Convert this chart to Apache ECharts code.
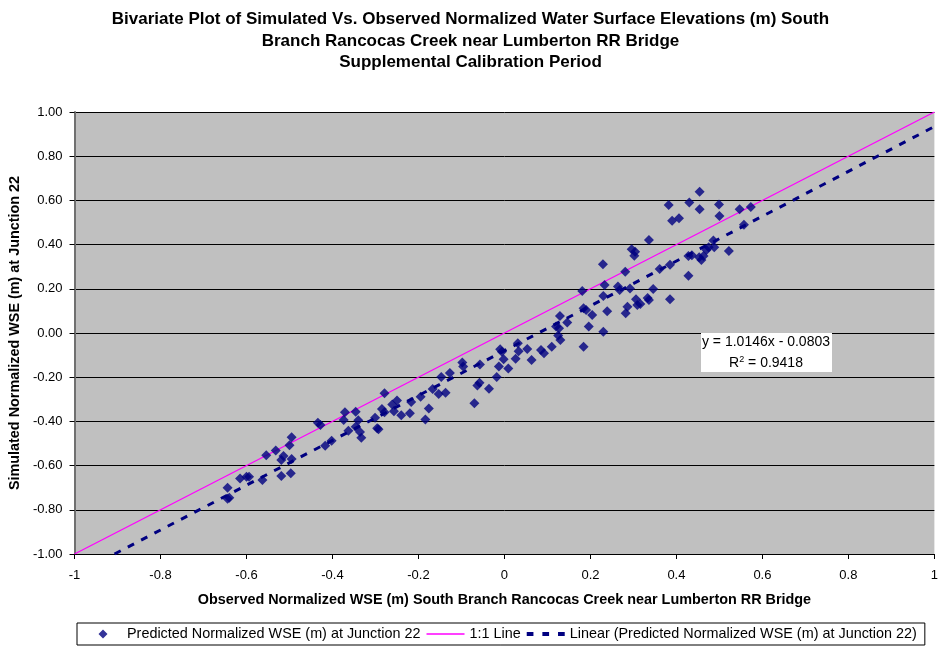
<!DOCTYPE html>
<html><head><meta charset="utf-8">
<script src="https://cdn.jsdelivr.net/npm/echarts@6/dist/echarts.min.js"></script>
<style>html,body{margin:0;padding:0;background:#fff}#c{width:941px;height:646px}</style>
</head><body><div id="c"></div>
<script>
const titleLines = ['Bivariate Plot of Simulated Vs. Observed Normalized Water Surface Elevations (m) South','Branch Rancocas Creek near Lumberton RR Bridge','Supplemental Calibration Period'];
const xAxisName = 'Observed Normalized WSE (m) South Branch Rancocas Creek near Lumberton RR Bridge';
const yAxisName = 'Simulated Normalized WSE (m) at Junction 22';
const seriesNames = ['Predicted Normalized WSE (m) at Junction 22','1:1 Line','Linear (Predicted Normalized WSE (m) at Junction 22)'];
const obsX = [-0.644,-0.644,-0.640,-0.615,-0.600,-0.594,-0.563,-0.554,-0.532,-0.519,-0.497,-0.514,-0.519,-0.495,-0.500,-0.495,
-0.434,-0.428,-0.417,-0.402,-0.371,-0.374,-0.346,-0.340,-0.363,-0.346,-0.336,-0.333,-0.301,-0.296,-0.293,-0.279,-0.285,-0.279,-0.261,-0.257,-0.250,-0.240,-0.220,-0.217,-0.195,-0.176,-0.184,-0.167,-0.153,-0.137,-0.147,-0.127,-0.098,-0.096,-0.057,-0.070,-0.063,-0.058,-0.036,-0.018,-0.013,-0.010,-0.002,0.009,0.026,0.031,
-0.006,0.033,0.053,0.063,0.085,0.092,0.110,0.130,0.125,0.120,0.127,0.129,0.146,0.181,0.184,0.184,0.196,0.190,0.204,0.229,0.233,0.230,0.239,0.230,0.264,0.268,0.281,0.292,0.286,0.282,0.306,0.309,0.316,0.333,0.336,0.346,0.385,0.296,0.304,0.302,0.336,0.382,0.390,0.406,0.430,0.454,0.454,0.499,0.500,0.547,0.573,0.557,0.522,0.385,0.428,0.436,0.428,0.453,0.458,0.463,0.470,0.475,0.486,0.488,0.361];
const simY = [-0.700,-0.750,-0.745,-0.658,-0.651,-0.650,-0.665,-0.553,-0.532,-0.647,-0.635,-0.557,-0.575,-0.570,-0.508,-0.472,
-0.406,-0.416,-0.510,-0.487,-0.359,-0.394,-0.356,-0.395,-0.442,-0.424,-0.448,-0.474,-0.383,-0.431,-0.436,-0.273,-0.344,-0.359,-0.324,-0.354,-0.305,-0.372,-0.363,-0.312,-0.288,-0.342,-0.391,-0.253,-0.276,-0.270,-0.199,-0.181,-0.133,-0.152,-0.142,-0.318,-0.237,-0.225,-0.252,-0.199,-0.152,-0.074,-0.119,-0.161,-0.116,-0.046,
-0.085,-0.083,-0.072,-0.122,-0.077,-0.092,-0.062,-0.032,-0.011,0.029,0.021,0.077,0.048,0.190,-0.062,0.112,0.029,0.104,0.081,0.311,0.217,0.167,0.098,0.006,0.210,0.195,0.277,0.201,0.119,0.089,0.153,0.127,0.131,0.158,0.149,0.199,0.153,0.379,0.368,0.350,0.421,0.579,0.508,0.519,0.590,0.639,0.560,0.581,0.529,0.560,0.570,0.490,0.371,0.309,0.348,0.352,0.259,0.343,0.330,0.348,0.376,0.388,0.418,0.388,0.290];
const oneToOneX = [-1, 1];
const oneToOneY = [-1, 1];
const trendX = [-0.907, 1];
const trendY = [-1.0, 0.934];
const equationText = 'y = 1.0146x - 0.0803';
const r2Value = '0.9418';

const FONT = '"Liberation Sans", Arial, sans-serif';
const chart = echarts.init(document.getElementById('c'));
chart.setOption({
  animation: false,
  backgroundColor: '#fff',
  title: {
    text: titleLines.join('\n'),
    left: 'center', top: 4,
    textStyle: { fontFamily: FONT, fontSize: 17, fontWeight: 'bold', color: '#000', lineHeight: 21.5 }
  },
  grid: { left: 74, right: 4, top: 112, bottom: 92, backgroundColor: '#C0C0C0', show: true, borderWidth: 0 },
  xAxis: {
    type: 'value', min: -1, max: 1, interval: 0.2,
    name: xAxisName, nameLocation: 'middle', nameGap: 39,
    nameTextStyle: { fontFamily: FONT, fontSize: 14.4, fontWeight: 'bold', color: '#000' },
    axisLine: { onZero: false, lineStyle: { color: '#000', width: 1 } },
    axisTick: { show: true, length: 5, lineStyle: { color: '#000' } },
    axisLabel: { fontFamily: FONT, fontSize: 13, color: '#000', margin: 15, formatter: v => String(Math.round(v*10)/10) },
    splitLine: { show: false }
  },
  yAxis: {
    type: 'value', min: -1, max: 1, interval: 0.2,
    name: yAxisName, nameLocation: 'middle', nameGap: 46, nameRotate: 90,
    nameTextStyle: { fontFamily: FONT, fontSize: 14.4, fontWeight: 'bold', color: '#000' },
    axisLine: { onZero: false, lineStyle: { color: '#707070', width: 2 } },
    axisTick: { show: true, length: 5, lineStyle: { color: '#000' } },
    axisLabel: { fontFamily: FONT, fontSize: 13, color: '#000', margin: 12, formatter: v => v.toFixed(2) },
    splitLine: { show: true, lineStyle: { color: '#000', width: 1 } }
  },
  legend: {
    bottom: 1, left: 77,
    padding: [4, 8, 4, 7],
    borderColor: '#000', borderWidth: 1,
    itemGap: 6, itemWidth: 38, itemHeight: 9,
    textStyle: { fontFamily: FONT, fontSize: 14.4, color: '#000' },
    data: [
      { name: seriesNames[0], icon: 'path://M0,4.45 L0.08,4.5 L0,4.55 Z M19,0 L23.5,4.5 L19,9 L14.5,4.5 Z M38,4.45 L37.92,4.5 L38,4.55 Z', itemStyle: { color: '#000080' } },
      { name: seriesNames[1], icon: 'path://M0,0 L38,0 L38,1.4 L0,1.4 Z', itemStyle: { color: '#FF00FF' } },
      { name: seriesNames[2], icon: 'path://M0,0 h6 v3.5 h-6 Z M14,0 h6 v3.5 h-6 Z M28,0 h6 v3.5 h-6 Z', itemStyle: { color: '#000080' } }
    ]
  },
  series: [
    {
      name: seriesNames[0], type: 'scatter', symbol: 'diamond', symbolSize: 10,
      itemStyle: { color: '#000080' },
      data: obsX.map((x, i) => [x, simY[i]]), z: 5
    },
    {
      name: seriesNames[1], type: 'line', showSymbol: false, symbol: 'none',
      itemStyle: { color: '#FF00FF' },
      lineStyle: { color: '#FF00FF', width: 1.3 },
      data: oneToOneX.map((x, i) => [x, oneToOneY[i]]), z: 3
    },
    {
      name: seriesNames[2], type: 'line', showSymbol: false, symbol: 'none',
      itemStyle: { color: '#000080' },
      lineStyle: { color: '#000080', width: 3, type: [7, 8] },
      data: trendX.map((x, i) => [x, trendY[i]]), z: 4
    }
  ],
  graphic: [
    { type: 'rect', shape: { x: 701, y: 333, width: 131, height: 39 }, style: { fill: '#fff', stroke: null }, z: 10 },
    { type: 'text', x: 766, y: 335, style: { text: equationText, font: '14px ' + FONT, fill: '#000', textAlign: 'center' }, z: 11 },
    { type: 'text', x: 766, y: 355, style: { text: 'R{s|2} = ' + r2Value, font: '14px ' + FONT, fill: '#000', textAlign: 'center',
        rich: { s: { fontSize: 9, verticalAlign: 'top', padding: [0,0,7,0], fontFamily: FONT } } }, z: 11 }
  ]
});
</script></body></html>
